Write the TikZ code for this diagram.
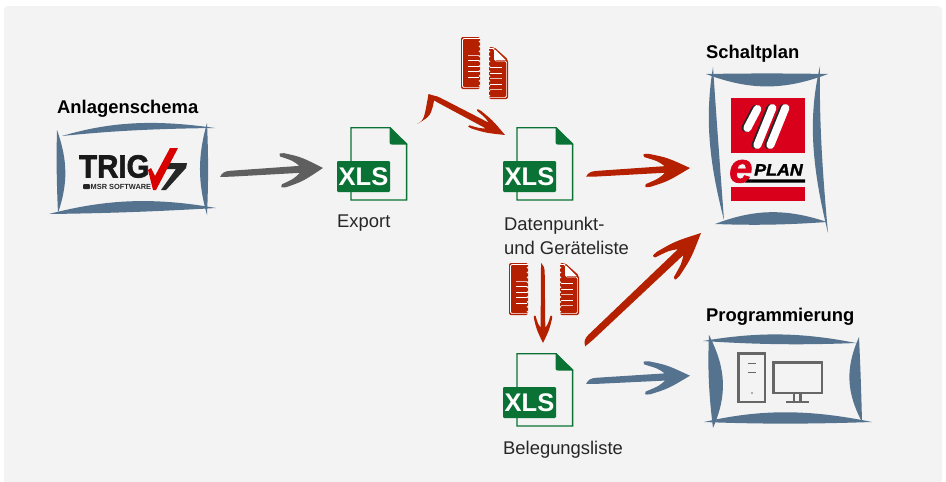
\documentclass[tikz,border=0pt]{standalone}
\usepackage{fontspec}
\setmainfont{Liberation Sans}
\newfontfamily\heavyf[BoldFeatures={FakeBold=2.2},BoldItalicFeatures={FakeBold=1.6}]{Liberation Sans}
\usetikzlibrary{calc}
\definecolor{bgc}{HTML}{F3F3F3}
\definecolor{framec}{HTML}{55738F}
\definecolor{arred}{HTML}{B52000}
\definecolor{argrey}{HTML}{5F5F5F}
\definecolor{xgreen}{HTML}{0B7236}
\definecolor{eplanred}{HTML}{D9001B}
\definecolor{pcgrey}{HTML}{666666}
\tikzset{
  label/.style={inner sep=0pt,anchor=base west,font=\fontsize{18.4}{18}\selectfont,text=black!85},
  blabel/.style={inner sep=0pt,anchor=base west,font=\fontsize{18.4}{18}\selectfont\bfseries,text=black},
  hole/.style={inner sep=0pt,minimum width=1pt,minimum height=1pt},
}
% tapered stroke: from A to B, bulging through two control points
\newcommand\sk[4]{\fill[framec] (#1) .. controls ($(#1)!.72!(#3)$) and ($(#2)!.72!(#3)$) .. (#2) .. controls ($(#2)!.72!(#4)$) and ($(#1)!.72!(#4)$) .. (#1) -- cycle;}
% swoosh arrow between named coordinates
\newcommand\swoosh[6]{% from,to,colour,barb back,barb half width,shaft half width
  \path let \p1=($(#2)-(#1)$) in \pgfextra{%
    \pgfmathsetmacro\swl{veclen(\x1,\y1)}\pgfmathsetmacro\swa{atan2(\y1,\x1)}%
    \global\let\swlen\swl\global\let\swang\swa};
  \begin{scope}[shift={(#1)},rotate=\swang,x=1pt,y=1pt]
    \fill[#3] (0,{-#6*.8}) .. controls (2,{#6*.3}) and (5,{#6*.7}) .. (10,{#6*.75})
      -- ({\swlen-#4*0.56},#6)
      .. controls ({\swlen-#4*0.7},{#6+(#5-#6)*.4}) .. ({\swlen-#4},{#5*.82})
      .. controls ({\swlen-#4*1.03},{#5*1.02}) .. ({\swlen-#4*.9},#5)
      .. controls ({\swlen-#4*0.5},{#5*.72}) .. (\swlen,0)
      .. controls ({\swlen-#4*0.5},{-#5*.72}) .. ({\swlen-#4*.9},-#5)
      .. controls ({\swlen-#4*1.03},{-#5*1.02}) .. ({\swlen-#4},{-#5*.82})
      .. controls ({\swlen-#4*0.7},{-#6-(#5-#6)*.4}) .. ({\swlen-#4*0.56},-#6)
      -- (10,{-#6*.95}) -- cycle;
  \end{scope}}
% XLS file icon
\newcommand\xlsicon[3]{%
  \begin{scope}[shift={(#2,#3)}]
    \draw[xgreen,line width=1.4] (517,127.7) -- (556,127.7) -- (572.6,144) -- (572.6,200) -- (517,200) -- cycle;
    \fill[xgreen] (555.5,127) -- (573.3,144.5) -- (558,144.5) .. controls (556,144.5) .. (555.5,142) -- cycle;
    \node[fill=xgreen,rounded corners=1.2pt,minimum width=53pt,minimum height=31pt,inner sep=0pt,
      text=white,font=\fontsize{25.5}{25.5}\selectfont\bfseries] (#1) at (529.5,176.5) {XLS};
  \end{scope}}
% left half of torn page
\newcommand\pageL[2]{%
  \begin{scope}[shift={(#1,#2)}]
    \fill[arred,rounded corners=2pt] (0,0) -- (19,0) -- (19,52) -- (0,52) -- cycle;
    \draw[white,line width=0.7,rounded corners=1.5pt] (19.5,1.4) -- (1.4,1.4) -- (1.4,50.6) -- (19.5,50.6);
    \foreach \i in {0,...,9} {\fill[bgc] (19.6,{3+\i*4.9}) -- (17.6,{4.6+\i*4.9}) -- (19.6,{6.2+\i*4.9}) -- cycle;}
    \foreach \i/\c in {18.5/70,23.5/100,29/100,34/100,40/100} {\draw[white!\c!arred,line width=0.9] (6.5,\i) -- (18,\i);}
  \end{scope}}
% right half of torn page
\newcommand\pageR[2]{%
  \begin{scope}[shift={(#1,#2)}]
    \fill[arred,rounded corners=2pt] (0,0) -- (5,0) -- (19,12.5) -- (19,52) -- (0,52) -- cycle;
    \draw[white,line width=0.7,rounded corners=1.5pt] (-0.5,50.6) -- (17.6,50.6) -- (17.6,14) -- (5.5,14) -- (5.5,2) -- (4,1.4) -- (-0.5,1.4);
    \fill[white] (6,2.5) -- (16.5,12.8) -- (6,12.8) -- cycle;
    \foreach \i in {0,...,9} {\fill[bgc] (-0.6,{3+\i*4.9}) -- (1.4,{4.6+\i*4.9}) -- (-0.6,{6.2+\i*4.9}) -- cycle;}
    \foreach \i/\c in {20/100,26/100,31/70,37/100,42/70} {\draw[white!\c!arred,line width=0.9] (1,\i) -- (13,\i);}
  \end{scope}}
\begin{document}
\begin{tikzpicture}[x=1pt,y=-1pt]
\useasboundingbox (0,0) rectangle (946,482);
\fill[white] (0,0) rectangle (946,482);
\fill[bgc,rounded corners=4pt] (4,6) rectangle (942,484);

% labels
\node[blabel] (t1) at (57,113) {Anlagenschema};
\node[blabel] (t2) at (706,58) {Schaltplan};
\node[blabel] (t3) at (706,321) {Programmierung};
\node[label] (l1) at (337,227) {Export};
\node[label] (l2a) at (504,230) {Datenpunkt-};
\node[label] (l2b) at (504,254) {und Geräteliste};
\node[label] (l3) at (503,454) {Belegungsliste};

% frame 1
\node[hole] (f1) at (132,169) {};
\sk{62,136}{215,128}{130,116}{130,129}
\sk{207,123}{207,215}{194,169}{209,169}
\sk{57,130}{58,213}{56,169}{72,172}
\sk{49,214}{216,208}{130,193}{130,213}
% TRIG logo
\node[inner sep=0pt,anchor=base west,text=black!90,xscale=.92,font=\fontsize{32}{32}\selectfont\heavyf\bfseries] (trig) at (79,177.5) {TRIG};
\fill[black!85,rounded corners=1pt] (83,184) rectangle (90,189);
\node[inner sep=0pt,anchor=base west,text=black!85,font=\fontsize{7.4}{8}\selectfont\bfseries] (msr) at (90.5,189.5) {MSR SOFTWARE};
\fill[black!85] (166,163) -- (187,163) -- (186,168) -- (166,190) -- (161,190) -- (176,169) -- (165,169) -- cycle;
\fill[red!85!black] (170,148) -- (178,148) -- (156,190) -- (153,190) -- (148,170) -- (151,168) -- (155,176) -- cycle;

% frame 2
\node[hole] (f2) at (768,150) {};
\sk{706,74}{828,74}{767,97}{767,73}
\sk{713,67}{724,220}{702,135}{718,140}
\sk{820,66}{828,233}{804,135}{819,135}
\sk{715,224}{827,222}{770,203}{770,226}
% EPLAN logo
\fill[eplanred] (731,98) rectangle (805,153);
\fill[eplanred] (731,187) rectangle (805,201);
\foreach \a/\b/\c/\d in {747/128/757/109,757/145/772/108,770/145/785/108}{
  \draw[black!85,line width=8,line cap=round] (\a-1.6,\b) -- (\c-1.6,\d);
  \draw[white,line width=8,line cap=round] (\a+.4,\b) -- (\c+.4,\d);
}
\node[inner sep=0pt,anchor=base west,text=eplanred,font=\fontsize{42}{42}\selectfont\heavyf\bfseries\itshape] (ee) at (729,182.5) {e};
\node[inner sep=0pt,anchor=base west,text=black,xscale=1.08,font=\fontsize{16.5}{18}\selectfont\heavyf\bfseries\itshape] (plan) at (754,175.5) {PLAN};
\fill[black] (748,179.3) -- (805,179.3) -- (805,182.6) -- (745,182.6) -- cycle;

% frame 3
\node[hole] (f3) at (782,380) {};
\sk{703,341}{856,343}{780,328}{780,346}
\sk{709,335}{713,428}{707,380}{733,382}
\sk{859,337}{862,422}{840,380}{861,380}
\sk{704,422}{872,422}{783,404}{783,425}
% computer
\draw[pcgrey,line width=2.4] (738.5,353.5) rectangle (765,402);
\draw[pcgrey,line width=1.3] (747.5,363.5) -- (756,363.5) (747.5,372.5) -- (756,372.5);
\fill[pcgrey] (752,393) circle (0.9);
\draw[pcgrey,line width=2.4] (773.5,362.5) rectangle (822,393);
\draw[pcgrey,line width=2.2] (794,393) -- (794,401.5) (800.5,393) -- (800.5,401.5);
\draw[pcgrey,line width=2.2] (786,401.8) -- (809,401.8);

% XLS
\xlsicon{x1}{-166}{0}
\xlsicon{x2}{0}{0}
\xlsicon{x3}{0}{226}

% pages
\pageL{461}{37}\pageR{489}{47}
\pageL{509}{263}\pageR{560}{263}

% connectors
\coordinate (a1s) at (220,174); \coordinate (a1e) at (323,168);
\coordinate (a2s) at (586,174); \coordinate (a2e) at (690,168);
\coordinate (a3s) at (583,344); \coordinate (a3e) at (701,233);
\coordinate (a4s) at (586,381); \coordinate (a4e) at (690,375.7);
\coordinate (a5s) at (543,263); \coordinate (a5e) at (543,343);
\coordinate (a6t) at (417,124); \coordinate (a6a) at (430,95); \coordinate (a6e) at (505,135);
\swoosh{a1s}{a1e}{argrey}{42}{17}{3.5}
\swoosh{a2s}{a2e}{arred}{45}{16.5}{3.3}
\swoosh{a3s}{a3e}{arred}{50}{16.5}{4}
\swoosh{a4s}{a4e}{framec}{45}{16.5}{3.6}
\swoosh{a5s}{a5e}{arred}{27}{9}{2.3}
\swoosh{a6a}{a6e}{arred}{36}{10}{3.2}
\fill[arred] (a6t) .. controls (424,120) .. (428.5,94) -- (435,96) .. controls (431,116) .. (a6t) -- cycle;
\end{tikzpicture}
\end{document}
